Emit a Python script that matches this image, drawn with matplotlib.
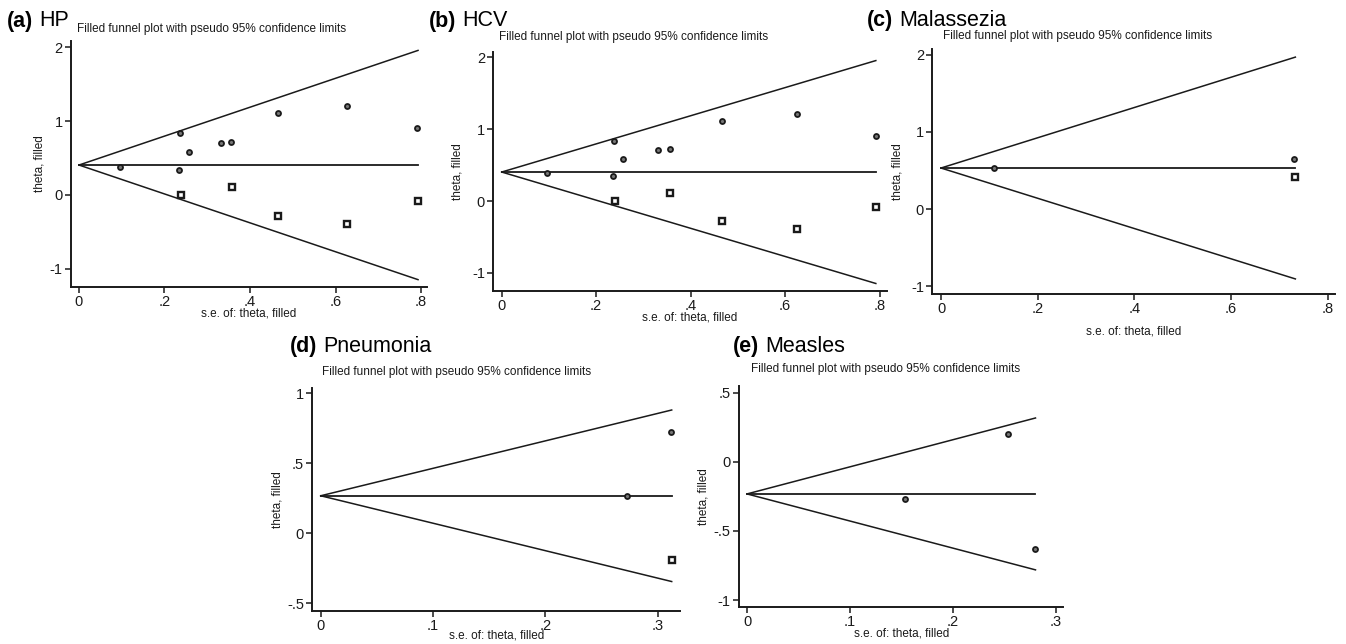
import matplotlib
matplotlib.use("Agg")
import matplotlib.pyplot as plt
import numpy as np

plt.rcParams['font.family'] = ['Liberation Sans', 'DejaVu Sans']

# ---- data: (se, theta) of observed studies and of trim-and-fill imputed studies ----
hp_se_obs = [0.096, 0.235, 0.237, 0.257, 0.331, 0.356, 0.466, 0.626, 0.791]
hp_theta_obs = [0.380, 0.340, 0.835, 0.587, 0.709, 0.718, 1.115, 1.206, 0.908]
hp_se_fill = [0.239, 0.358, 0.466, 0.627, 0.793]
hp_theta_fill = [0.000, 0.104, -0.285, -0.393, -0.081]
hp_pooled = 0.404

hcv_se_obs = [0.095, 0.235, 0.237, 0.257, 0.331, 0.356, 0.466, 0.626, 0.792]
hcv_theta_obs = [0.386, 0.348, 0.836, 0.585, 0.710, 0.724, 1.114, 1.207, 0.910]
hcv_se_fill = [0.239, 0.357, 0.466, 0.626, 0.792]
hcv_theta_fill = [0.000, 0.111, -0.283, -0.390, -0.079]
hcv_pooled = 0.404

mal_se_obs = [0.110, 0.731]
mal_theta_obs = [0.536, 0.645]
mal_se_fill = [0.733]
mal_theta_fill = [0.415]
mal_pooled = 0.532

pne_se_obs = [0.273, 0.312]
pne_theta_obs = [0.269, 0.726]
pne_se_fill = [0.3126]
pne_theta_fill = [-0.190]
pne_pooled = 0.268

mea_se_obs = [0.153, 0.253, 0.280]
mea_theta_obs = [-0.270, 0.200, -0.629]
mea_se_fill = []
mea_theta_fill = []
mea_pooled = -0.233

x_ticks_big = [0, 0.2, 0.4, 0.6, 0.8]
x_labels_big = ["0", ".2", ".4", ".6", ".8"]
x_ticks_small = [0, 0.1, 0.2, 0.3]
x_labels_small = ["0", ".1", ".2", ".3"]
y_ticks_big = [-1, 0, 1, 2]
y_labels_big = ["-1", "0", "1", "2"]
y_ticks_pne = [-0.5, 0, 0.5, 1]
y_labels_pne = ["-.5", "0", ".5", "1"]
y_ticks_mea = [-1, -0.5, 0, 0.5]
y_labels_mea = ["-1", "-.5", "0", ".5"]

subtitle = "Filled funnel plot with pseudo 95% confidence limits"
xlab = "s.e. of: theta, filled"
ylab = "theta, filled"

W, H = 1346, 644
fig = plt.figure(figsize=(W / 100, H / 100), dpi=100)
fig.patch.set_facecolor("white")

INK = "#1a1a1a"


def px_box(x0, x1, ytop, ybot):
    return [x0 / W, 1 - ybot / H, (x1 - x0) / W, (ybot - ytop) / H]


def panel(box, xlim, ylim, se_obs, th_obs, se_fill, th_fill, pooled,
          xt, xtl, yt, ytl, letter, name, title_xy, sub_xy, xlab_y, ylab_x):
    ax = fig.add_axes(px_box(*box))
    ax.set_xlim(*xlim)
    ax.set_ylim(*ylim)
    for s in ("top", "right"):
        ax.spines[s].set_visible(False)
    for s in ("left", "bottom"):
        ax.spines[s].set_linewidth(1.4)
        ax.spines[s].set_color(INK)
    ax.set_xticks(xt)
    ax.set_xticklabels(xtl)
    ax.set_yticks(yt)
    ax.set_yticklabels(ytl)
    ax.tick_params(direction="out", length=4, width=1.1, colors=INK,
                   labelsize=10.5, pad=2)

    # pseudo 95% confidence limits around the pooled estimate
    se_all = list(se_obs) + list(se_fill)
    se_max = max(se_all)
    se_line = np.array([0.0, se_max])
    ax.plot(se_line, pooled + 1.96 * se_line, color=INK, lw=1.1)
    ax.plot(se_line, pooled - 1.96 * se_line, color=INK, lw=1.1)
    ax.plot(se_line, [pooled, pooled], color=INK, lw=1.3)

    ax.plot(se_obs, th_obs, linestyle="none", marker="o", ms=3.6,
            mfc="#777777", mec=INK, mew=1.3, clip_on=False)
    if len(se_fill):
        ax.plot(se_fill, th_fill, linestyle="none", marker="s", ms=4.4,
                mfc="white", mec=INK, mew=1.7, clip_on=False)

    # axis titles placed in pixel space
    cx = (box[0] + box[1]) / 2
    fig.text(cx / W, 1 - xlab_y / H, xlab, ha="center", va="center",
             fontsize=8.5, color=INK)
    cy = (box[2] + box[3]) / 2
    fig.text(ylab_x / W, 1 - cy / H, ylab, ha="center", va="center",
             rotation=90, fontsize=8.5, color=INK)

    # panel heading
    tx, ty = title_xy
    t1 = fig.text(tx / W, 1 - ty / H, letter, ha="left", va="baseline",
                  fontsize=15.5, fontweight="bold", color="black")
    fig.canvas.draw()
    bb = t1.get_window_extent()
    fig.text((bb.x1 + 6) / W, 1 - ty / H, name, ha="left", va="baseline",
             fontsize=15.5, color="black")
    sx, sy = sub_xy
    fig.text(sx / W, 1 - sy / H, subtitle, ha="left", va="center",
             fontsize=8.5, color=INK)
    return ax


panel((71, 427, 40.7, 287), (-0.0187, 0.814), (-1.25, 2.09),
      hp_se_obs, hp_theta_obs, hp_se_fill, hp_theta_fill, hp_pooled,
      x_ticks_big, x_labels_big, y_ticks_big, y_labels_big,
      "(a)", "HP", (7, 26.5), (77, 29), 313, 40)

panel((493.3, 886.7, 51.7, 291), (-0.0178, 0.815), (-1.253, 2.08),
      hcv_se_obs, hcv_theta_obs, hcv_se_fill, hcv_theta_fill, hcv_pooled,
      x_ticks_big, x_labels_big, y_ticks_big, y_labels_big,
      "(b)", "HCV", (429, 26.5), (499, 37), 318, 457)

panel((932.3, 1335, 49.3, 294), (-0.018, 0.815), (-1.10, 2.07),
      mal_se_obs, mal_theta_obs, mal_se_fill, mal_theta_fill, mal_pooled,
      x_ticks_big, x_labels_big, y_ticks_big, y_labels_big,
      "(c)", "Malassezia", (867, 26), (943, 36), 331, 898)

panel((312.3, 680, 387.7, 610.7), (-0.0075, 0.320), (-0.553, 1.04),
      pne_se_obs, pne_theta_obs, pne_se_fill, pne_theta_fill, pne_pooled,
      x_ticks_small, x_labels_small, y_ticks_pne, y_labels_pne,
      "(d)", "Pneumonia", (290, 352), (322, 372), 636, 277)

panel((739, 1063.3, 386, 606.7), (-0.0078, 0.307), (-1.048, 0.547),
      mea_se_obs, mea_theta_obs, mea_se_fill, mea_theta_fill, mea_pooled,
      x_ticks_small, x_labels_small, y_ticks_mea, y_labels_mea,
      "(e)", "Measles", (733, 352), (751, 369), 633, 703)

fig.savefig("out.png", dpi=100, facecolor="white")
